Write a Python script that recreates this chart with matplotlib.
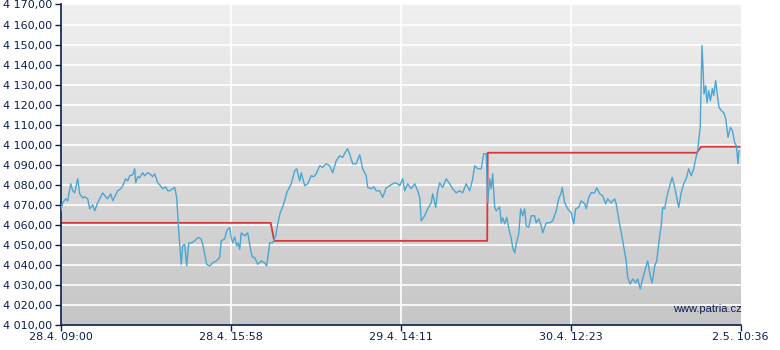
import numpy as np
import matplotlib
matplotlib.use("Agg")
import matplotlib.pyplot as plt

# ---- data (time position in chart units, 170 units between labelled ticks) ----
price_t = [0, 2, 5, 7, 10, 12, 14, 17, 19, 22, 24, 27, 29, 32, 34, 37, 39, 42, 45, 47,
           50, 52, 55, 57, 60, 62, 65, 67, 69, 72, 74, 75, 77, 79, 82, 84, 87, 89, 92, 94,
           97, 99, 102, 105, 107, 109, 112, 114, 116, 118, 120.5, 122, 124, 126, 128, 130.5,
           134, 137, 140.5, 142, 144, 146, 149, 152, 155.5, 159, 160.5, 164, 166, 169, 170.5,
           172, 174, 176, 177.5, 179, 180.5, 184, 187, 190.5, 192, 194, 197, 200.5, 204, 206,
           209, 212, 215, 217, 219.5, 222, 224, 226, 228, 230.5, 234, 236, 239, 240.5, 244,
           247, 250.5, 253, 255.5, 259, 262, 265.5, 269, 272, 275.5, 279, 282, 285.5, 287,
           289.5, 292, 295.5, 299, 302, 305.5, 307, 310.5, 313, 315.5, 319, 322, 325.5, 329,
           332, 334, 337, 339, 342, 344, 347, 350.5, 354, 357, 359, 360.5, 364, 367, 370.5,
           372, 375, 377, 379, 382, 385.5, 389, 392, 395.5, 399, 402, 405.5, 409, 412, 414,
           417, 420.5, 423, 425.5, 427, 429, 430.5, 432, 434, 435.5, 439, 440.5, 442, 444,
           446, 448, 449, 450.5, 452, 454, 455.5, 458, 460, 462, 464, 465.5, 468, 470.5, 474,
           475.5, 478, 480.5, 482, 485.5, 489, 492, 495.5, 498, 500.5, 501.5, 504, 507, 510.5,
           513, 515, 518, 520.5, 524, 525.5, 528, 530.5, 534, 536, 539, 542, 545, 547, 550.5,
           554, 555.5, 558, 562, 565.5, 567, 569.5, 572, 575, 577, 579.5, 582, 585, 587,
           589.5, 591.5, 594, 596, 599, 600.5, 602, 604, 606, 609, 611.5, 614, 616, 618,
           620.5, 623, 625.5, 628, 630.5, 633, 635, 637, 638, 639.5, 640.5, 641.3, 642.3,
           643.3, 645, 646.3, 648, 649.7, 651.7, 653, 655, 656.7, 658.3, 660.7, 663, 665,
           667.3, 669.7, 671.7, 674, 675.7, 677.3, 678.3]
price_v = [4067, 4071, 4073, 4072, 4080.5, 4077, 4076, 4083, 4075.5, 4073.5, 4074, 4073, 4068,
           4070, 4067, 4071, 4073, 4076, 4074, 4073, 4075.5, 4072, 4075, 4077, 4078, 4079.5,
           4083, 4082, 4084.5, 4085, 4088, 4081, 4084, 4083.5, 4086, 4084.5, 4086, 4085.5,
           4084, 4085.5, 4081, 4080, 4078, 4079, 4077, 4077, 4078, 4078.7, 4073.7, 4057,
           4040.3, 4049.5, 4050.3, 4039.5, 4051, 4051, 4052, 4053.7, 4053, 4050.3, 4045.3,
           4040.3, 4039.5, 4041, 4042, 4043.7, 4052, 4053, 4057, 4058.7, 4053.7, 4051, 4054,
           4049.5, 4051, 4047.8, 4056, 4054.5, 4056, 4046, 4043.7, 4043.7, 4040.3, 4042, 4041,
           4039.5, 4051, 4051, 4054.5, 4060.3, 4066, 4069, 4072, 4076, 4078, 4080.5, 4087,
           4088, 4082, 4086, 4079.5, 4080.5, 4084.5, 4084, 4085.5, 4089.5, 4088.7, 4090.5,
           4089.5, 4086, 4092, 4094.5, 4093.7, 4097, 4098, 4094.5, 4090.5, 4090.5, 4095,
           4088, 4084.5, 4078.7, 4078, 4079, 4077, 4077, 4073.7, 4078.5, 4079.5, 4080.5, 4081,
           4080.5, 4079.5, 4083, 4077, 4080.5, 4078, 4080.5, 4077, 4073.7, 4062, 4064.5, 4068,
           4071, 4075.5, 4068.7, 4077, 4081, 4078.7, 4083, 4080.5, 4078, 4076, 4077, 4076,
           4080.5, 4077, 4083, 4089.5, 4088, 4088, 4095.5, 4095.5, 4071, 4083, 4078, 4085.5,
           4068.7, 4067, 4069, 4061, 4063.5, 4060.5, 4063.7, 4058.7, 4056, 4053.5, 4048.5,
           4046, 4050.5, 4055.5, 4068, 4064.5, 4068, 4059.5, 4058.7, 4064.5, 4064.5, 4061,
           4063, 4059.5, 4056, 4061, 4061, 4062, 4067, 4073, 4076, 4078.7, 4071, 4068, 4066,
           4060.5, 4068, 4068.7, 4072, 4070.5, 4068, 4073.7, 4076, 4076, 4078.5, 4075.5,
           4074.5, 4070.5, 4073, 4071, 4073, 4070.5, 4063, 4052, 4042, 4033.7, 4030.5, 4033,
           4031, 4033, 4028, 4033, 4038.7, 4042, 4034.5, 4031, 4039.5, 4042, 4054.5, 4059.5,
           4068.7, 4068, 4073.7, 4079.5, 4083.7, 4078.7, 4073.7, 4068.7, 4076, 4080.5, 4083,
           4088, 4084.5, 4088, 4093, 4097, 4102, 4108.7, 4132, 4149.5, 4138.7, 4125.3, 4129.5,
           4121, 4127, 4122, 4128, 4124.5, 4132, 4124.5, 4118.7, 4117, 4116, 4113, 4103.7,
           4108.7, 4107, 4101, 4099.5, 4090.5, 4097]

ref_t = [0, 210, 213.5, 426.5, 427, 636, 640.5, 679]
ref_v = [4061, 4061, 4052, 4052, 4096, 4096, 4099, 4099]

x_ticks = [0, 170, 340, 510, 680]
x_labels = ["28.4. 09:00", "28.4. 15:58", "29.4. 14:11", "30.4. 12:23", "2.5. 10:36"]
y_ticks = list(range(4010, 4171, 10))

# ---- figure ----
W, H = 780, 350
fig = plt.figure(figsize=(W / 100, H / 100), dpi=100)
fig.patch.set_facecolor("white")
left, right, top, bottom = 60.7, 740.7, 4.5, 325.0
ax = fig.add_axes([left / W, 1 - bottom / H, (right - left) / W, (bottom - top) / H])

navy = "#0b1f4e"
plt.rcParams["font.family"] = ["Liberation Sans", "DejaVu Sans"]

# gradient background
grad = np.linspace(0, 1, 256).reshape(-1, 1)
top_c = np.array([240, 240, 240]) / 255
bot_c = np.array([198, 198, 198]) / 255
img = top_c[None, None, :] * (1 - grad[:, :, None]) + bot_c[None, None, :] * grad[:, :, None]
ax.imshow(img, extent=[0, 680, 4010, 4170], aspect="auto", origin="upper", zorder=0)

ax.set_xlim(0, 680)
ax.set_ylim(4010, 4170)

for y in y_ticks[1:-1]:
    ax.axhline(y, color="white", lw=1.2, zorder=1)
for x in x_ticks[1:-1]:
    ax.axvline(x, color="white", lw=1.2, zorder=1)

ax.plot(ref_t, ref_v, color="#d83a3a", lw=1.3, zorder=2)
ax.plot(price_t, price_v, color="#4aa6d2", lw=1.0, zorder=3)

ax.set_xticks(x_ticks)
ax.set_xticklabels(x_labels)
ax.set_yticks(y_ticks)
ax.set_yticklabels([f"4 {v - 4000:03d},00" for v in y_ticks])

for s in ["top", "right"]:
    ax.spines[s].set_visible(False)
for s in ["left", "bottom"]:
    ax.spines[s].set_color(navy)
    ax.spines[s].set_linewidth(1.2)

ax.tick_params(axis="both", colors=navy, labelcolor=navy, labelsize=8, length=4, width=1)
ax.tick_params(axis="y", pad=2)
ax.tick_params(axis="x", pad=1)

fig.text(742 / W, 1 - 309 / H, "www.patria.cz", color=navy, fontsize=8,
         ha="right", va="center")

fig.savefig("out.png", dpi=100)
